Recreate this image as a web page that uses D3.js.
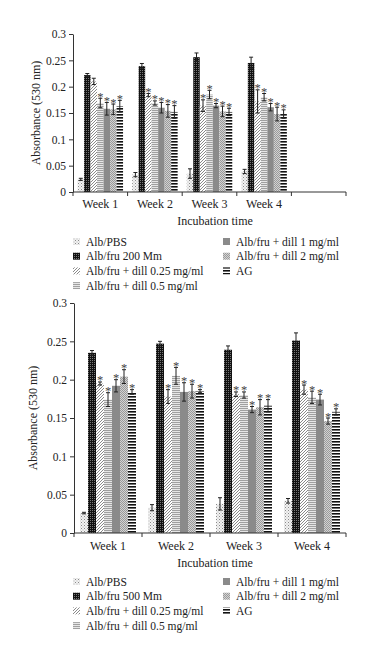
<!DOCTYPE html>
<html>
<head>
<meta charset="utf-8">
<script src="https://cdn.jsdelivr.net/npm/d3@7"></script>
<style>
  body { margin: 0; background: #fff; }
  svg { display: block; font-family: "Liberation Serif", "DejaVu Serif", serif; }
</style>
</head>
<body>
<div id="chart"></div>
<script>
// categories
const weeks = ["Week 1", "Week 2", "Week 3", "Week 4"]
const seriesKeys = ["pbs", "fru", "d025", "d05", "d1", "d2", "ag"]
const topNames = ["Alb/PBS", "Alb/fru 200 Mm", "Alb/fru + dill 0.25 mg/ml", "Alb/fru + dill 0.5 mg/ml",
                  "Alb/fru + dill 1 mg/ml", "Alb/fru + dill 2 mg/ml", "AG"]
const bottomNames = ["Alb/PBS", "Alb/fru 500 Mm", "Alb/fru + dill 0.25 mg/ml", "Alb/fru + dill 0.5 mg/ml",
                     "Alb/fru + dill 1 mg/ml", "Alb/fru + dill 2 mg/ml", "AG"]
const yTicks = [0, 0.05, 0.1, 0.15, 0.2, 0.25, 0.3]

// top panel: mean per series (rows) and week (cols)
const topMeans = [
  [0.024, 0.033, 0.035, 0.039],
  [0.222, 0.239, 0.256, 0.245],
  [0.210, 0.184, 0.164, 0.172],
  [0.169, 0.169, 0.185, 0.180],
  [0.158, 0.160, 0.164, 0.161],
  [0.157, 0.154, 0.153, 0.148],
  [0.163, 0.152, 0.152, 0.148]
]
const topErrs = [
  [0.002, 0.004, 0.009, 0.004],
  [0.003, 0.005, 0.008, 0.011],
  [0.006, 0.003, 0.011, 0.022],
  [0.009, 0.004, 0.008, 0.007],
  [0.012, 0.010, 0.004, 0.007],
  [0.010, 0.012, 0.010, 0.013],
  [0.011, 0.012, 0.007, 0.008]
]
const topStars = [
  [0, 0, 0, 0], [0, 0, 0, 0], [0, 1, 1, 1], [1, 1, 1, 1], [1, 1, 1, 1], [1, 1, 1, 1], [1, 1, 1, 1]
]

// bottom panel
const bottomMeans = [
  [0.026, 0.033, 0.038, 0.042],
  [0.235, 0.247, 0.239, 0.251],
  [0.195, 0.178, 0.181, 0.187],
  [0.174, 0.205, 0.180, 0.177],
  [0.192, 0.184, 0.161, 0.174],
  [0.204, 0.185, 0.164, 0.146],
  [0.184, 0.185, 0.166, 0.158]
]
const bottomErrs = [
  [0.001, 0.004, 0.008, 0.003],
  [0.003, 0.003, 0.005, 0.010],
  [0.002, 0.009, 0.003, 0.006],
  [0.009, 0.011, 0.004, 0.008],
  [0.008, 0.012, 0.004, 0.007],
  [0.009, 0.009, 0.010, 0.004],
  [0.003, 0.002, 0.008, 0.004]
]
const bottomStars = [
  [0, 0, 0, 0], [0, 0, 0, 0], [1, 1, 1, 1], [1, 1, 1, 1], [1, 1, 1, 1], [1, 1, 1, 1], [1, 1, 1, 1]
]

const W = 377, H = 660
const svg = d3.select("#chart").append("svg")
    .attr("width", W)
    .attr("height", H)

// fill patterns for the seven series
const defs = svg.append("defs")
function pattern(id, w, h) {
  return defs.append("pattern").attr("id", id)
      .attr("patternUnits", "userSpaceOnUse")
      .attr("width", w).attr("height", h)
}
let p = pattern("pbs", 3, 3)
p.append("rect").attr("width", 3).attr("height", 3).attr("fill", "#f2f2f2")
p.append("rect").attr("width", 1).attr("height", 1).attr("fill", "#8a8a8a")
p.append("rect").attr("x", 1.5).attr("y", 1.5).attr("width", 1).attr("height", 1).attr("fill", "#b0b0b0")

p = pattern("fru", 2, 2)
p.append("rect").attr("width", 2).attr("height", 2).attr("fill", "#111")
p.append("rect").attr("width", 1).attr("height", 1).attr("fill", "#777")

p = pattern("d025", 3, 3)
p.append("rect").attr("width", 3).attr("height", 3).attr("fill", "#fff")
p.append("path").attr("d", "M-1,1 L1,-1 M0,3 L3,0 M2,4 L4,2")
    .attr("stroke", "#8a8a8a").attr("stroke-width", 1)

p = pattern("d05", 2, 2)
p.append("rect").attr("width", 2).attr("height", 2).attr("fill", "#e6e6e6")
p.append("rect").attr("width", 2).attr("height", 1).attr("fill", "#a0a0a0")

p = pattern("d2", 2, 2)
p.append("rect").attr("width", 2).attr("height", 2).attr("fill", "#d2d2d2")
p.append("rect").attr("width", 1).attr("height", 1).attr("fill", "#9a9a9a")
p.append("rect").attr("x", 1).attr("y", 1).attr("width", 1).attr("height", 1).attr("fill", "#9a9a9a")

p = pattern("ag", 3, 3)
p.append("rect").attr("width", 3).attr("height", 3).attr("fill", "#fff")
p.append("rect").attr("width", 3).attr("height", 1.6).attr("fill", "#111")

const fills = {
  pbs: "url(#pbs)", fru: "url(#fru)", d025: "url(#d025)", d05: "url(#d05)",
  d1: "#8a8a8a", d2: "url(#d2)", ag: "url(#ag)"
}

function panel(opt) {
  const { means, errs, stars, names, cats, x0, x1r, yTop, yBottom, outer, titleX, titleY, legendY, axisY } = opt

  const x = d3.scaleBand().domain(cats).range([x0, x1r]).paddingInner(0).paddingOuter(0)
  const xs = d3.scaleBand().domain(seriesKeys).range([0, x.bandwidth()]).paddingInner(0).paddingOuter(outer)
  const y = d3.scaleLinear().domain([0, 0.3]).range([yBottom, yTop])

  const g = svg.append("g")

  // bars
  seriesKeys.forEach((k, si) => {
    weeks.forEach((wk, wi) => {
      const v = means[si][wi], e = errs[si][wi]
      const bx = x(wk) + xs(k)
      g.append("rect")
          .attr("x", bx)
          .attr("y", y(v))
          .attr("width", xs.bandwidth())
          .attr("height", y(0) - y(v))
          .attr("fill", fills[k])

      const cx = bx + xs.bandwidth() / 2
      g.append("path")
          .attr("d", `M${cx - 2},${y(v + e)}H${cx + 2}M${cx},${y(v + e)}V${y(v - e)}M${cx - 2},${y(v - e)}H${cx + 2}`)
          .attr("stroke", "#222")
          .attr("stroke-width", 1)
          .attr("fill", "none")

      if (stars[si][wi]) {
        g.append("text")
            .attr("x", cx)
            .attr("y", y(v + e) + 2.5)
            .attr("text-anchor", "middle")
            .attr("font-size", 12.5)
            .attr("fill", "#444")
            .text("*")
      }
    })
  })

  // y axis
  const yAxis = g.append("g")
      .attr("transform", `translate(${x0},0)`)
      .call(d3.axisLeft(y).tickValues(yTicks).tickSize(4).tickSizeOuter(0)
        .tickFormat(d => d === 0 ? "0" : String(+d.toFixed(2))))
  yAxis.select(".domain").attr("stroke", "#333")
  yAxis.selectAll(".tick line").attr("stroke", "#333")
  yAxis.selectAll(".tick text").attr("font-size", 11.5).attr("fill", "#222")
      .attr("font-family", "Liberation Serif, serif")

  // x axis: ticks on category boundaries
  const xAxis = g.append("g").attr("transform", `translate(0,${y(0)})`)
  xAxis.append("line").attr("x1", x0).attr("x2", x1r).attr("stroke", "#333")
  xAxis.selectAll(".xt").data(cats.map(c => x(c)).concat([x1r]))
    .join("line").attr("class", "xt")
      .attr("x1", d => d).attr("x2", d => d).attr("y1", 0).attr("y2", 4)
      .attr("stroke", "#333")
  xAxis.selectAll(".xl").data(weeks)
    .join("text").attr("class", "xl")
      .attr("x", d => x(d) + x.bandwidth() / 2)
      .attr("y", axisY - y(0))
      .attr("text-anchor", "middle")
      .attr("font-size", 12)
      .attr("fill", "#222")
      .text(d => d)

  g.append("text")
      .attr("x", 215).attr("y", titleY)
      .attr("text-anchor", "middle")
      .attr("font-size", 12).attr("fill", "#222")
      .text("Incubation time")

  g.append("text")
      .attr("transform", `translate(${titleX},${(y(0) + y(0.3)) / 2}) rotate(-90)`)
      .attr("text-anchor", "middle")
      .attr("font-size", 12).attr("fill", "#222")
      .text("Absorbance (530 nm)")

  // legend, two columns
  const leg = g.append("g")
  names.forEach((n, i) => {
    const col = i < 4 ? 0 : 1
    const row = i < 4 ? i : i - 4
    const lx = col === 0 ? 73 : 223
    const ly = legendY + row * 14.7
    leg.append("rect")
        .attr("x", lx).attr("y", ly - 4).attr("width", 7).attr("height", 7)
        .attr("fill", fills[seriesKeys[i]])
    leg.append("text")
        .attr("x", lx + 13).attr("y", ly + 3.5)
        .attr("font-size", 11.5).attr("fill", "#222")
        .text(n)
  })
}

panel({
  means: topMeans, errs: topErrs, stars: topStars, names: topNames,
  cats: weeks.concat([" "]), x0: 73, x1r: 346, yTop: 34, yBottom: 192, outer: 0.7,
  titleX: 40, titleY: 225, legendY: 242, axisY: 208
})

panel({
  means: bottomMeans, errs: bottomErrs, stars: bottomStars, names: bottomNames,
  cats: weeks, x0: 74, x1r: 346, yTop: 303, yBottom: 533, outer: 0.75,
  titleX: 37, titleY: 567, legendY: 582, axisY: 550
})
</script>
</body>
</html>
